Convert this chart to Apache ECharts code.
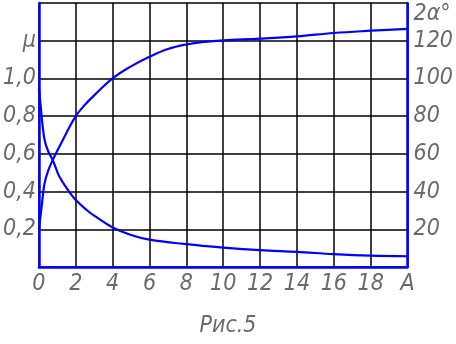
<!DOCTYPE html>
<html>
<head>
<meta charset="utf-8">
<script src="https://cdn.jsdelivr.net/npm/echarts@6/dist/echarts.min.js"></script>
<style>
  html, body { margin: 0; padding: 0; background: #fff; }
  #fig5 { width: 456px; height: 344px; }
</style>
</head>
<body>
<div id="fig5"></div>
<script>
// μ curve (left axis)
const muX = [0, 0.1, 0.2, 0.32, 0.5, 0.76, 1.11, 1.64, 2, 2.66, 3, 4, 5, 6, 8, 10, 12, 14, 16, 18, 20];
const muY = [0.95, 0.85, 0.75, 0.67, 0.615, 0.565, 0.48, 0.40, 0.355, 0.297, 0.272, 0.21, 0.17, 0.145, 0.121, 0.103, 0.089, 0.08, 0.068, 0.06, 0.057];
// 2α curve (right axis, degrees)
const alphaX = [0, 0.05, 0.15, 0.3, 0.5, 0.75, 1.3, 2, 2.5, 3, 4, 5, 6, 7, 8, 9, 10, 12, 14, 16, 18, 20];
const alphaY = [20, 24, 32, 44, 51, 56.7, 67.4, 80, 86, 91, 100, 106.4, 111.5, 115.6, 118, 119.4, 120.2, 121.1, 122.3, 124.1, 125.3, 126.3];
// tick labels
const muLabels = { 0.2: "0,2", 0.4: "0,4", 0.6: "0,6", 0.8: "0,8", 1: "1,0", 1.2: "μ" };
const alphaLabels = { 20: "20", 40: "40", 60: "60", 80: "80", 100: "100", 120: "120", 140: "{t|2α°}" };

const font = '"DejaVu Sans Condensed", "Liberation Sans Narrow", sans-serif';
const blue = "#0000ff";
const ink = "#6a6a6a";

function pairs(xs, ys) {
  return xs.map((x, i) => [x, ys[i]]);
}

const chart = echarts.init(document.getElementById("fig5"));
chart.setOption({
  animation: false,
  title: {
    text: "Рис.5",
    left: 223,
    textAlign: "center",
    top: 310,
    textStyle: { fontFamily: font, fontStyle: "italic", fontWeight: "normal", fontSize: 23, color: ink },
  },
  grid: { left: 34, right: 44, top: 3, bottom: 77 },
  xAxis: {
    type: "value",
    min: 0,
    max: 20,
    interval: 2,
    axisLine: { lineStyle: { color: blue, width: 2.5 } },
    axisTick: { show: false },
    axisLabel: {
      margin: 6,
      fontFamily: font, fontStyle: "italic", fontSize: 23, color: ink,
      formatter: (v) => (v === 20 ? "A" : String(v)),
    },
    splitLine: { show: true, lineStyle: { color: "#000", width: 1.5 } },
  },
  yAxis: [
    {
      type: "value",
      min: 0,
      max: 1.4,
      interval: 0.2,
      axisLine: { show: true, lineStyle: { color: blue, width: 2.5 } },
      axisTick: { show: false },
      axisLabel: {
        margin: 3,
        fontFamily: font, fontStyle: "italic", fontSize: 23, color: ink,
        formatter: (v) => muLabels[Math.round(v * 10) / 10] || "",
      },
      splitLine: { show: true, lineStyle: { color: "#000", width: 1.5 } },
    },
    {
      type: "value",
      min: 0,
      max: 140,
      interval: 20,
      position: "right",
      axisLine: { show: true, lineStyle: { color: blue, width: 2.5 } },
      axisTick: { show: false },
      axisLabel: {
        margin: 6,
        fontFamily: font, fontStyle: "italic", fontSize: 23, color: ink,
        formatter: (v) => alphaLabels[v] || "",
        rich: { t: { fontFamily: font, fontStyle: "italic", fontSize: 23, color: ink, padding: [22, 0, 0, 0] } },
      },
      splitLine: { show: false },
    },
  ],
  series: [
    {
      name: "μ",
      type: "line",
      yAxisIndex: 0,
      data: pairs(muX, muY),
      smooth: 0.4,
      showSymbol: false,
      lineStyle: { color: blue, width: 2.2 },
    },
    {
      name: "2α",
      type: "line",
      yAxisIndex: 1,
      data: pairs(alphaX, alphaY),
      smooth: 0.4,
      showSymbol: false,
      lineStyle: { color: blue, width: 2.2 },
    },
  ],
});
</script>
</body>
</html>
